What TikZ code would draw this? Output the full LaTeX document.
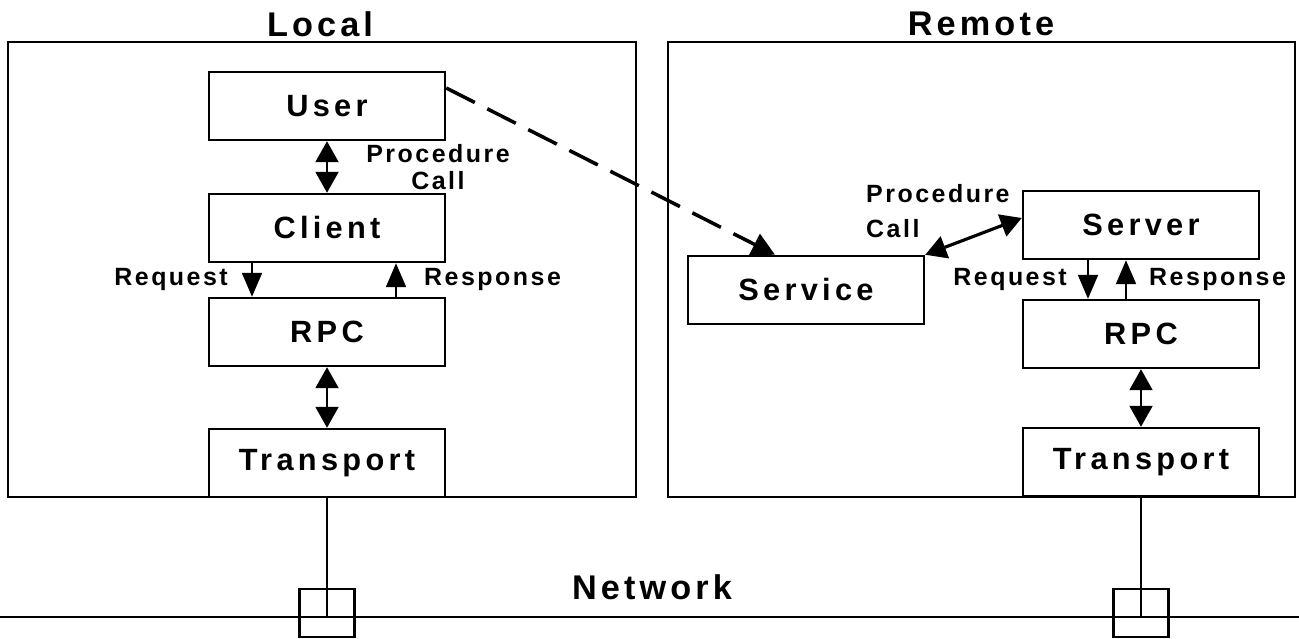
\documentclass[tikz,border=0pt]{standalone}
\usepackage{fontspec}
\setmainfont{Liberation Sans}
\newfontfamily\titlefont[LetterSpace=12]{Liberation Sans}
\newfontfamily\boxfont[LetterSpace=14]{Liberation Sans}
\newfontfamily\notefont[LetterSpace=10]{Liberation Sans}
\usetikzlibrary{positioning, calc, arrows.meta}

\begin{document}
\begin{tikzpicture}[
    % one unit is one pixel of the layout, y runs downwards
    x=0.2mm, y=-0.2mm,
    % Styling
    host frame/.style={draw, line width=1.4pt},
    layer box/.style={
        draw,
        line width=1.4pt,
        minimum width=47.2mm,
        minimum height=13.6mm,
        inner sep=0pt,
        font=\boxfont\bfseries\fontsize{17.5}{20}\selectfont
    },
    title text/.style={font=\titlefont\bfseries\fontsize{19.5}{22}\selectfont},
    note text/.style={font=\notefont\bfseries\fontsize{14.2}{15.5}\selectfont},
    arrow style/.style={
        -{Triangle[length=4.8mm, width=4mm]},
        line width=1.2pt
    },
    both arrow/.style={
        {Triangle[length=4.2mm, width=4.6mm]}-{Triangle[length=4.2mm, width=4.6mm]},
        line width=1.2pt
    },
    remote call/.style={
        -{Triangle[length=4.6mm, width=4.6mm]},
        line width=2pt,
        dash pattern=on 6.4mm off 2.8mm
    },
    tap box/.style={draw, line width=1.4pt, minimum width=11mm, minimum height=9.6mm, inner sep=0pt},
    net line/.style={line width=1.6pt}
]
\useasboundingbox (0,0) rectangle (1299,639);

% --- Host frames ---
\draw[host frame] (8,42) rectangle (636,497);
\draw[host frame] (668,42) rectangle (1295,497);
\node[title text] (localtitle) at (320,24) {Local};
\node[title text] (remotetitle) at (981,24) {Remote};

% --- Layer stacks ---
\foreach \name/\txt/\ypos in {user/User/106, client/Client/228, lrpc/RPC/332, ltrans/Transport/463}
    \node[layer box] (\name) at (327,\ypos) {\txt};
\foreach \name/\txt/\ypos in {server/Server/225, rrpc/RPC/334, rtrans/Transport/462}
    \node[layer box] (\name) at (1141,\ypos) {\txt};
\node[layer box] (service) at (806,290) {Service};

% --- Local connectors ---
\draw[both arrow] (user) -- (client);
\draw[arrow style] ([xshift=-15mm]client.south) -- ([xshift=-15mm]lrpc.north);
\draw[arrow style] ([xshift=13.8mm]lrpc.north) -- ([xshift=13.8mm]client.south);
\draw[both arrow] (lrpc) -- (ltrans);

\node[note text, align=center] (lcall) at (438,167) {Procedure\\Call};
\node[note text, anchor=east] (lreq) at (234,280) {Request};
\node[note text, anchor=west] (lresp) at (418,280) {Response};

% --- Remote connectors ---
\draw[remote call] ([yshift=3.6mm]user.east) -- ([xshift=-6.2mm]service.north);
\draw[both arrow, line width=1.8pt] (service.north east) -- ([yshift=1.4mm]server.west);
\draw[arrow style] ([xshift=-10.6mm]server.south) -- ([xshift=-10.6mm]rrpc.north);
\draw[arrow style] ([xshift=-3mm]rrpc.north) -- ([xshift=-3mm]server.south);
\draw[both arrow] (rrpc) -- (rtrans);

\node[note text, align=left, anchor=west] (rcall) at (860,211) {Procedure\\[4pt]Call};
\node[note text, anchor=east] (rreq) at (1073,280) {Request};
\node[note text, anchor=west] (rresp) at (1143,280) {Response};

% --- Network ---
\coordinate (netW) at (0,617);
\coordinate (netE) at (1299,617);
\draw[net line] (netW) -- (netE);
\node[title text] (network) at (652,587) {Network};
\foreach \t in {ltrans, rtrans} {
    \node[tap box, yshift=0.8mm] (\t-tap) at (\t.south |- netW) {};
    \draw[line width=1.1pt] (\t.south) -- (\t-tap.center |- netW);
}

\end{tikzpicture}
\end{document}
